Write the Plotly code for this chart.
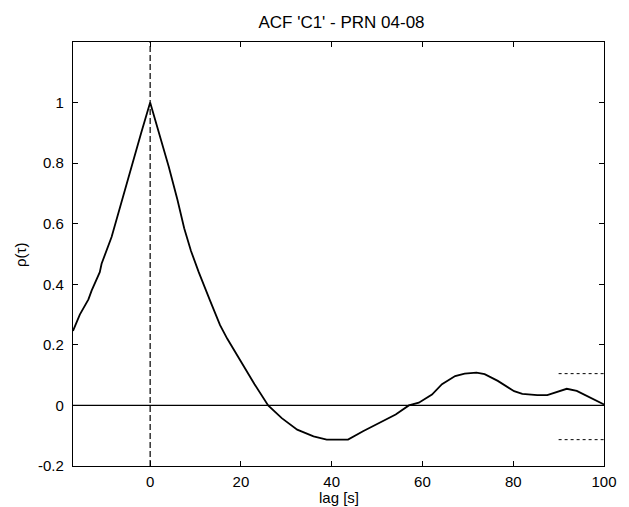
import plotly.graph_objects as go

# ACF data
lag = [-17, -15.5, -13.6, -12.9, -11.1, -10.7, -8.5, -6.4, -4.2, -2.0, 0,
       2.0, 4.1, 6.0, 7.5, 9.0, 10.7, 13.2, 15.4, 17.0, 19.0, 21.0, 23.0, 26.0,
       29.0, 32.4, 36.0, 38.9, 43.6, 46.9, 51.2, 54.1, 57.0, 59.2, 62.1, 64.3,
       67.2, 69.3, 71.9, 73.7, 76.6, 80.2, 82.0, 85.3, 87.5, 89.7, 91.8, 94.0,
       96.2, 100]
rho = [0.246, 0.30, 0.35, 0.379, 0.44, 0.468, 0.556, 0.667, 0.788, 0.899, 1.0,
       0.899, 0.788, 0.68, 0.585, 0.51, 0.44, 0.346, 0.265, 0.22, 0.17, 0.12,
       0.07, 0.0, -0.042, -0.08, -0.102, -0.113, -0.113, -0.085, -0.052, -0.03,
       0.0, 0.009, 0.036, 0.07, 0.097, 0.105, 0.108, 0.103, 0.081, 0.047, 0.038,
       0.034, 0.034, 0.045, 0.055, 0.048, 0.031, 0.003]

conf_x = [90, 100]
conf_upper = [0.105, 0.105]
conf_lower = [-0.113, -0.113]

x_range = [-17, 100]
y_range = [-0.2, 1.2]
x_ticks = [0, 20, 40, 60, 80, 100]
y_ticks = [-0.2, 0, 0.2, 0.4, 0.6, 0.8, 1]
y_ticktext = ["-0.2", "0", "0.2", "0.4", "0.6", "0.8", "1"]

fig = go.Figure()
fig.add_trace(go.Scatter(x=x_range, y=[0, 0], mode="lines",
                         line=dict(color="black", width=1.2), hoverinfo="skip"))
fig.add_trace(go.Scatter(x=[0, 0], y=y_range, mode="lines",
                         line=dict(color="black", width=1.2, dash="6px,3px"), hoverinfo="skip"))
fig.add_trace(go.Scatter(x=lag, y=rho, mode="lines",
                         line=dict(color="black", width=1.8)))
fig.add_trace(go.Scatter(x=conf_x, y=conf_upper, mode="lines",
                         line=dict(color="black", width=1, dash="dot")))
fig.add_trace(go.Scatter(x=conf_x, y=conf_lower, mode="lines",
                         line=dict(color="black", width=1, dash="dot")))

font = dict(family="Liberation Sans, Arial, sans-serif", size=15, color="black")
title_font = dict(family="Liberation Sans, Arial, sans-serif", size=17, color="black")
axis_common = dict(showgrid=False, zeroline=False, showline=True, mirror="ticks",
                   linecolor="black", linewidth=1.2, ticks="inside", ticklen=5,
                   tickcolor="black", tickfont=font)

fig.update_layout(
    width=629, height=507,
    autosize=False,
    margin=dict(l=73, r=19, t=42, b=41),
    paper_bgcolor="white", plot_bgcolor="white",
    showlegend=False,
    font=font,
    title=dict(text="ACF 'C1' - PRN 04-08", x=(73 + 610) / 2 / 629, xanchor="center",
               y=1 - 22 / 507, yanchor="middle", font=title_font),
    xaxis=dict(range=x_range, tickvals=x_ticks, ticklabelstandoff=2, **axis_common),
    yaxis=dict(range=y_range, tickvals=y_ticks, ticktext=y_ticktext, ticklabelstandoff=5,
               **axis_common),
    annotations=[
        dict(text="lag [s]", xref="paper", yref="paper", x=0.5, y=0, yshift=-31,
             showarrow=False, font=font, xanchor="center", yanchor="middle"),
        dict(text="ρ(τ)", xref="paper", yref="paper", x=0, xshift=-53, y=(466 - 255) / 424,
             showarrow=False, font=font, textangle=-90, xanchor="center", yanchor="middle"),
    ],
)

fig.write_html(
    "out.html",
    post_script="document.body.style.margin='0';document.body.style.overflow='hidden';"
                "document.documentElement.style.overflow='hidden';",
    config={"displayModeBar": False, "responsive": False},
)
